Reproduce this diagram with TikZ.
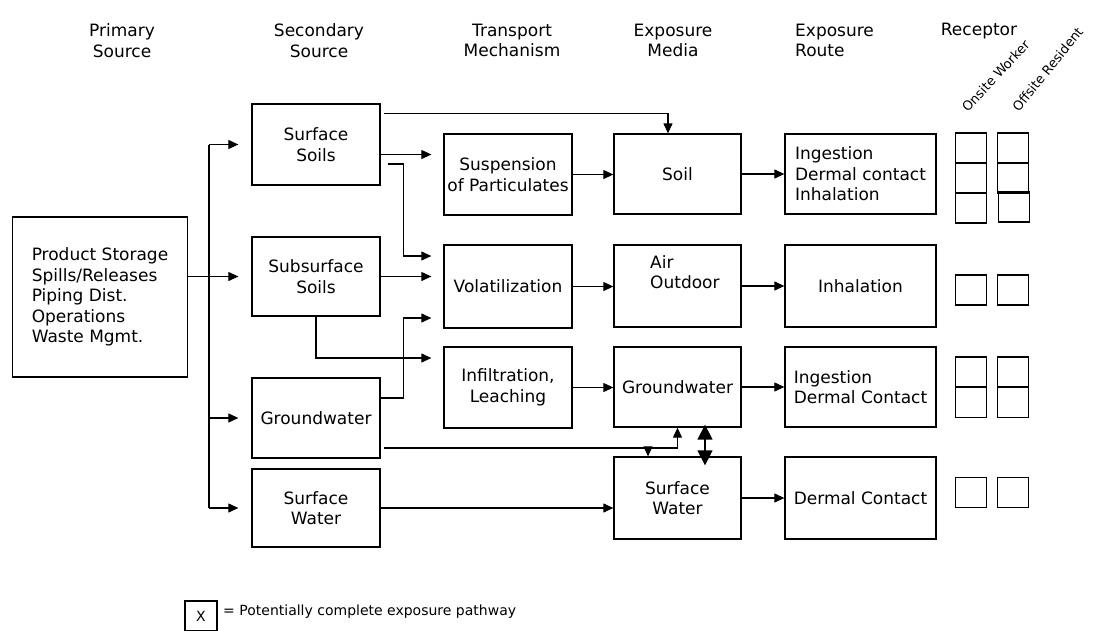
\documentclass[tikz,border=0pt]{standalone}
\usepackage{fontspec}
\setmainfont{DejaVu Sans}
\usetikzlibrary{arrows.meta,calc}
\newcommand\dgfont{\fontsize{17}{20.5}\selectfont}
\newcommand\dgsmall{\fontsize{13}{15}\selectfont}
\newcommand\dglegend{\fontsize{14}{16}\selectfont}
\begin{document}
\begin{tikzpicture}[x=1pt,y=-1pt,
  box/.style={draw, line width=1.3pt, inner sep=0pt, font=\dgfont, align=center},
  rbox/.style={draw, line width=1.3pt, inner sep=0pt, minimum width=31pt, minimum height=30pt},
  hdr/.style={font=\dgfont, align=center, inner sep=0pt},
  txt/.style={font=\dgfont, align=left, inner sep=0pt},
  ln/.style={line width=1.1pt},
  arr/.style={line width=1.1pt, -{Triangle[length=10pt,width=9pt]}},
  dbl/.style={line width=1.4pt, {Triangle[length=15pt,width=15pt]}-{Triangle[length=15pt,width=15pt]}}
]
\useasboundingbox (0,0) rectangle (1104,630);
\fill[white] (0,0) rectangle (1104,630);

% headers
\node[hdr] (h1) at (122,40.5) {Primary\\Source};
\node[hdr] (h2) at (319,40.5) {Secondary\\Source};
\node[hdr] (h3) at (512,40.5) {Transport\\Mechanism};
\node[hdr] (h4) at (673,40.5) {Exposure\\Media};
\node[hdr, align=left, anchor=west] (h5) at (795,40.5) {Exposure\\Route};
\node[hdr] (h6) at (979,31) {Receptor};
\node[font=\dgsmall, inner sep=0pt, anchor=south west, rotate=47] (rw) at (968,113) {Onsite Worker};
\node[font=\dgsmall, inner sep=0pt, anchor=south west, rotate=51] (rr) at (1019,113) {Offsite Resident};

% primary
\node[box, align=left, minimum width=175pt, minimum height=160pt] (prim) at (100,297)
  {Product Storage\\Spills/Releases\\Piping Dist.\\Operations\\Waste Mgmt.};

% secondary
\node[box, minimum width=128pt, minimum height=81pt] (ss) at (316,144.5) {Surface\\Soils};
\node[box, minimum width=128pt, minimum height=79pt] (sub) at (316,276.5) {Subsurface\\Soils};
\node[box, minimum width=128pt, minimum height=80pt] (gw) at (316,418) {Groundwater};
\node[box, minimum width=128pt, minimum height=78pt] (sw) at (316,508) {Surface\\Water};

% transport
\node[box, minimum width=128pt, minimum height=81pt] (susp) at (508,174.5) {Suspension\\of Particulates};
\node[box, minimum width=128pt, minimum height=83pt] (vol) at (508,286.5) {Volatilization};
\node[box, minimum width=128pt, minimum height=81pt] (inf) at (508,387.5) {Infiltration,\\Leaching};

% exposure media
\node[box, minimum width=127pt, minimum height=80pt] (soil) at (677.5,174) {Soil};
\node[box, minimum width=127pt, minimum height=82pt] (air) at (677.5,286) {};
\node[txt, anchor=west] (airt) at (650,272) {Air\\Outdoor};
\node[box, minimum width=127pt, minimum height=80pt] (gwm) at (677.5,387) {Groundwater};
\node[box, minimum width=127pt, minimum height=82pt] (swm) at (677.5,498) {Surface\\Water};

% exposure route
\node[box, align=left, minimum width=151pt, minimum height=80pt] (r1) at (860.5,174) {Ingestion\\Dermal contact\\Inhalation};
\node[box, minimum width=151pt, minimum height=82pt] (r2) at (860.5,286) {Inhalation};
\node[box, align=left, minimum width=151pt, minimum height=80pt] (r3) at (860.5,387) {Ingestion\\Dermal Contact};
\node[box, minimum width=151pt, minimum height=82pt] (r4) at (860.5,498) {Dermal Contact};

% receptor boxes
\node[rbox] (q11) at (971,148) {};
\node[rbox] (q12) at (971,178) {};
\node[rbox] (q13) at (971,208) {};
\node[rbox] (q21) at (1013,148) {};
\node[rbox] (q22) at (1013,178) {};
\node[rbox] (q23) at (1014,207) {};
\node[rbox] (q31) at (971,290) {};
\node[rbox] (q32) at (1013,290) {};
\node[rbox] (q41) at (971,372) {};
\node[rbox] (q42) at (971,402.5) {};
\node[rbox] (q51) at (1013,372) {};
\node[rbox] (q52) at (1013,402.5) {};
\node[rbox] (q61) at (971,492.5) {};
\node[rbox] (q62) at (1013,492.5) {};

% legend
\node[draw, line width=1.3pt, inner sep=0pt, minimum width=32pt, minimum height=30pt, font=\dglegend] (leg) at (201,616) {X};
\node[font=\dglegend, inner sep=0pt, anchor=west] (legt) at (223,612) {= Potentially complete exposure pathway};

% primary -> secondary
\coordinate (tk) at (209,0);
\draw[ln] (tk |- ss) -- (tk |- sw);
\draw[arr, shorten >=13pt] (tk |- ss) -- (ss.west);
\draw[arr, shorten >=13pt] (prim.east |- sub) -- (sub.west);
\draw[arr, shorten >=13pt] (tk |- gw) -- (gw.west);
\draw[arr, shorten >=13pt] (tk |- sw) -- (sw.west);

% secondary -> transport
\coordinate (jx) at (403.5,0);
\coordinate (a1) at ([yshift=-10pt]ss.east);
\draw[arr, shorten >=12pt] (a1) -- (a1 -| susp.west);
\coordinate (a2) at ([yshift=-19.5pt]ss.east);
\coordinate (a3) at ([yshift=30.5pt]vol.west);
\draw[arr, shorten <=7pt, shorten >=12pt] (a2) -- (a2 -| jx) -- (jx |- a3) -- (a3);
\draw[arr, shorten >=12pt] (sub.east) -- (sub.east -| vol.west);
\coordinate (a4) at ([yshift=20pt]gw.east);
\coordinate (a5) at ([yshift=-31.5pt]vol.west);
\draw[arr, shorten >=12pt] (a4) -- (a4 -| jx) -- (jx |- a5) -- (a5);
\coordinate (a6) at ([yshift=29.5pt]inf.west);
\draw[arr, shorten >=12pt] (sub.south) -- (sub.south |- a6) -- (a6);

% surface soils -> soil
\coordinate (a7) at ([yshift=31pt]ss.east);
\coordinate (a8) at ([xshift=-9.5pt]soil.north);
\draw[arr, shorten <=3pt] (a7) -- (a7 -| a8) -- (a8);

% transport -> media
\draw[arr] (susp.east) -- (susp.east -| soil.west);
\draw[arr] (vol.east) -- (vol.east -| air.west);
\draw[arr] (inf.east) -- (inf.east -| gwm.west);

% media -> route
\draw[arr] (soil.east) -- (r1.west);
\draw[arr] (air.east) -- (r2.west);
\draw[arr] (gwm.east) -- (r3.west);
\draw[arr] (swm.east) -- (r4.west);

% groundwater -> media
\coordinate (a9) at ([yshift=-30pt]gw.east);
\coordinate (a10) at ([xshift=-29.5pt]swm.north);
\draw[arr, shorten <=3pt] (a9) -| (gwm.south);
\draw[arr] (a9 -| a10) -- (a10);
\coordinate (b1) at ([xshift=27.5pt,yshift=3pt]gwm.south);
\coordinate (b2) at ([xshift=27.5pt,yshift=-9pt]swm.north);
\draw[dbl] (b1) -- (b2);

% surface water -> surface water
\draw[arr] (sw.east) -- (sw.east -| swm.west);
\end{tikzpicture}
\end{document}
